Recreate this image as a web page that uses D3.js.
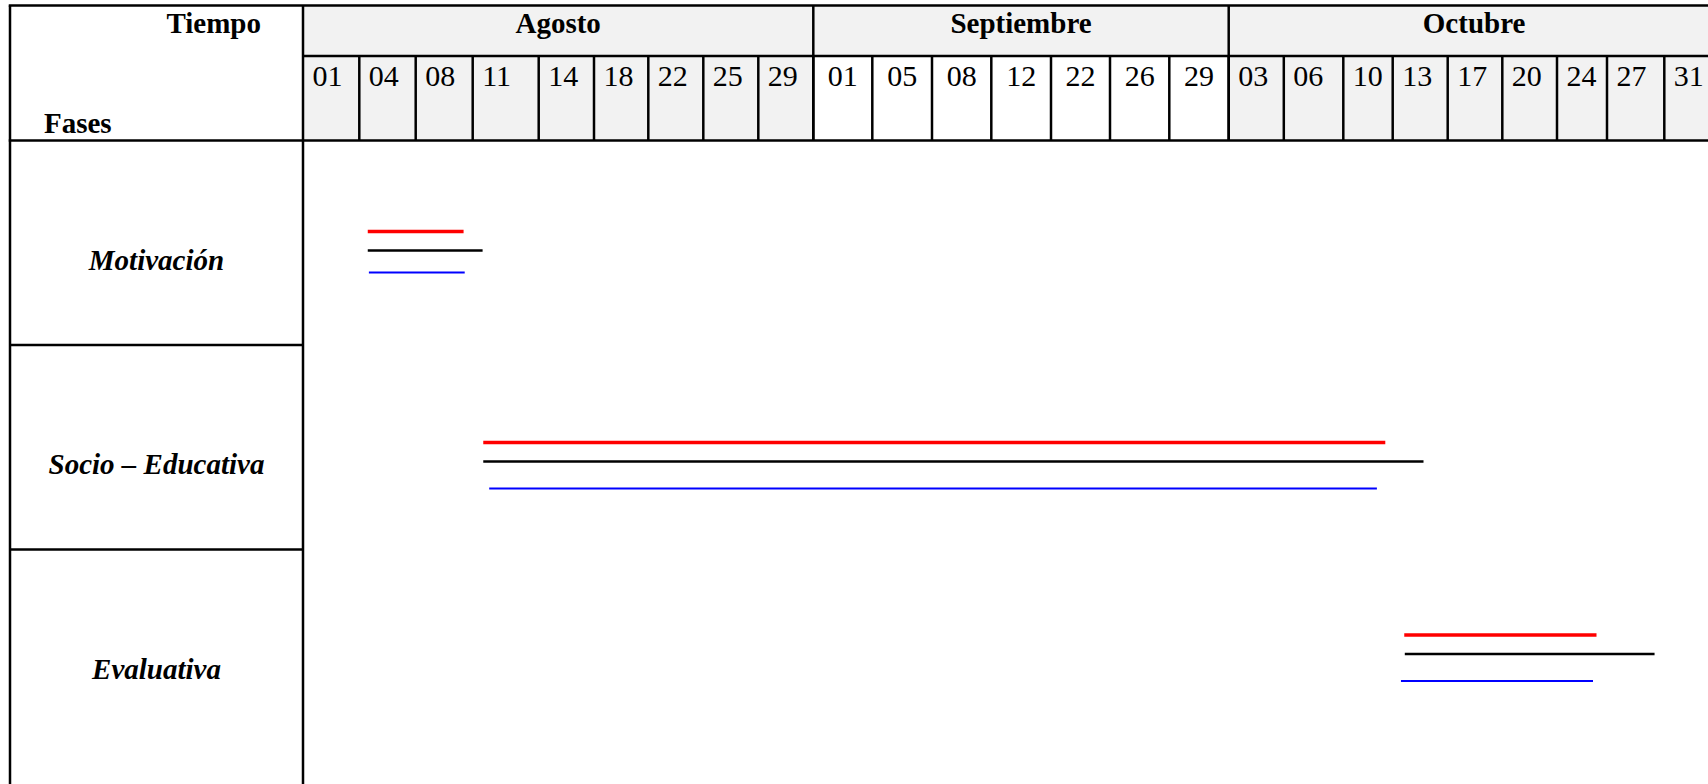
<!DOCTYPE html>
<html>
<head>
<meta charset="utf-8">
<script src="https://cdn.jsdelivr.net/npm/d3@7"></script>
<style>
  body { margin: 0; background: #fff; }
  text { font-family: 'Liberation Serif', 'Times New Roman', serif; fill: #000; }
</style>
</head>
<body>
<script>
// data
const months = ['Agosto', 'Septiembre', 'Octubre'];
const daysAgosto = ['01', '04', '08', '11', '14', '18', '22', '25', '29'];
const daysSeptiembre = ['01', '05', '08', '12', '22', '26', '29'];
const daysOctubre = ['03', '06', '10', '13', '17', '20', '24', '27', '31'];
const phases = ['Motivación', 'Socio – Educativa', 'Evaluativa'];

// spans in column units (index of the day column + fraction of it)
const redStart = [1.15, 3.16, 19.21];
const redEnd = [2.84, 18.85, 22.79];
const blackStart = [1.15, 3.16, 19.22];
const blackEnd = [3.15, 19.56, 23.83];
const blueStart = [1.17, 3.25, 19.15];
const blueEnd = [2.86, 18.68, 22.72];

// layout
const colWidths = [56.3, 56.4, 57, 66, 55.3, 54.3, 55, 55, 55,
  59, 59.7, 59.3, 59.7, 59, 59.3, 59.4,
  55.1, 59.5, 49.4, 55, 54.6, 54.7, 50, 57.3, 55.2];
const rowLineOffset = [110, 116.5, 104.5];
const W = 1708, H = 784;
const leftX = 10, topY = 5.4, colStart = 303, monthBottom = 56, headBottom = 140.5, rowH = 204.5;
const gray = '#f2f2f2';
const border = 2.5;
const dayPad = 9.5;

const drawViz = () => {
  const svg = d3.select('body').append('svg')
    .attr('width', W)
    .attr('height', H);

  const monthDays = [daysAgosto, daysSeptiembre, daysOctubre];
  const cols = [];
  monthDays.forEach((days, m) => days.forEach(d => cols.push({ label: d, month: m })));

  const edges = [colStart];
  colWidths.forEach(w => edges.push(edges[edges.length - 1] + w));
  const x = d3.scaleLinear().domain(d3.range(cols.length + 1)).range(edges);

  const y = d3.scaleBand().domain(phases).range([headBottom, headBottom + rowH * phases.length]);

  const monthSpans = [];
  let k = 0;
  monthDays.forEach((days, m) => {
    monthSpans.push({ name: months[m], i0: k, i1: k + days.length, m: m });
    k += days.length;
  });

  // header backgrounds
  svg.append('g').selectAll('rect')
    .data(monthSpans)
    .enter().append('rect')
    .attr('x', d => x(d.i0))
    .attr('y', topY)
    .attr('width', d => x(d.i1) - x(d.i0))
    .attr('height', monthBottom - topY)
    .attr('fill', gray);

  svg.append('g').selectAll('rect')
    .data(cols)
    .enter().append('rect')
    .attr('x', (d, i) => x(i))
    .attr('y', monthBottom)
    .attr('width', (d, i) => x(i + 1) - x(i))
    .attr('height', headBottom - monthBottom)
    .attr('fill', d => d.month === 1 ? '#fff' : gray);

  // grid lines
  const g = svg.append('g').attr('stroke', '#000').attr('stroke-width', border);
  const line = (x1, y1, x2, y2) => g.append('line')
    .attr('x1', x1).attr('y1', y1).attr('x2', x2).attr('y2', y2);

  const right = x(cols.length);
  line(leftX - border / 2, topY, right, topY);
  line(colStart, monthBottom, right, monthBottom);
  line(leftX - border / 2, headBottom, right, headBottom);
  line(leftX, topY, leftX, H);
  line(colStart, topY, colStart, H);
  monthSpans.slice(1).forEach(d => line(x(d.i0), topY, x(d.i0), headBottom));
  cols.forEach((d, i) => { if (i > 0) line(x(i), monthBottom, x(i), headBottom); });
  phases.slice(1).forEach(p => line(leftX, y(p), colStart, y(p)));
  line(right, topY, right, headBottom);

  // header text
  svg.append('text')
    .attr('x', 261).attr('y', 32.5)
    .attr('text-anchor', 'end')
    .attr('font-size', 29).attr('font-weight', 'bold')
    .text('Tiempo');
  svg.append('text')
    .attr('x', 44).attr('y', 133)
    .attr('font-size', 29).attr('font-weight', 'bold')
    .text('Fases');

  svg.append('g').selectAll('text')
    .data(monthSpans)
    .enter().append('text')
    .attr('x', d => (x(d.i0) + x(d.i1)) / 2)
    .attr('y', 32.5)
    .attr('text-anchor', 'middle')
    .attr('font-size', 29).attr('font-weight', 'bold')
    .text(d => d.name);

  svg.append('g').selectAll('text')
    .data(cols)
    .enter().append('text')
    .attr('x', (d, i) => d.month === 1 ? (x(i) + x(i + 1)) / 2 : x(i) + dayPad)
    .attr('y', 86)
    .attr('text-anchor', d => d.month === 1 ? 'middle' : 'start')
    .attr('font-size', 30)
    .text(d => d.label);

  // phase labels
  svg.append('g').selectAll('text')
    .data(phases)
    .enter().append('text')
    .attr('x', (leftX + colStart) / 2)
    .attr('y', p => y(p) + y.bandwidth() / 2 + 27)
    .attr('text-anchor', 'middle')
    .attr('font-size', 29).attr('font-weight', 'bold').attr('font-style', 'italic')
    .text(p => p);

  // gantt lines
  const series = [
    { start: redStart, end: redEnd, color: '#ff0000', width: 3.5, dy: -19 },
    { start: blackStart, end: blackEnd, color: '#000000', width: 2.5, dy: 0 },
    { start: blueStart, end: blueEnd, color: '#0000ff', width: 2, dy: 22 }
  ];
  const segs = [];
  series.forEach((s, si) => phases.forEach((p, pi) => {
    segs.push({ x0: s.start[pi], x1: s.end[pi], p: p, pi: pi, s: s, si: si });
  }));

  const segY = d => y(d.p) + rowLineOffset[d.pi] + d.s.dy + (d.si === 2 && d.pi > 0 ? 5 : 0);

  svg.append('g').selectAll('line')
    .data(segs)
    .enter().append('line')
    .attr('x1', d => x(d.x0))
    .attr('x2', d => x(d.x1))
    .attr('y1', segY)
    .attr('y2', segY)
    .attr('stroke', d => d.s.color)
    .attr('stroke-width', d => d.s.width);
};

drawViz();
</script>
</body>
</html>
